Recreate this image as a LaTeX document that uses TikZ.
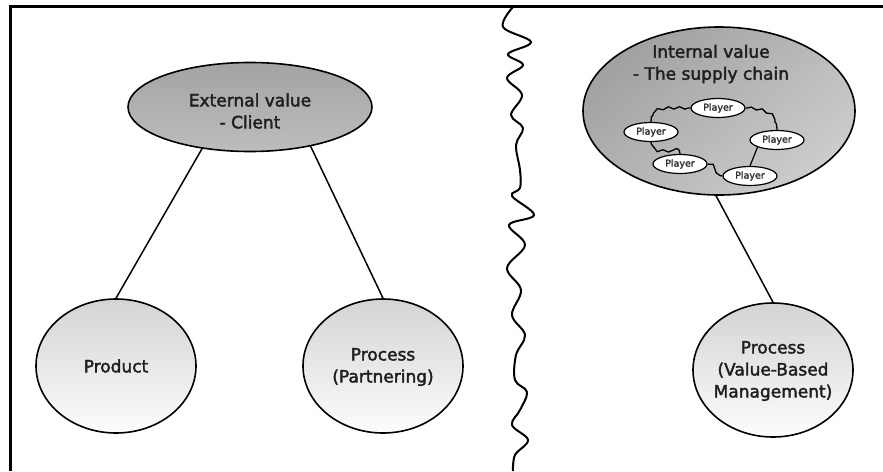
\documentclass[tikz,border=0pt]{standalone}
\usepackage{fontspec}
\setmainfont{DejaVu Sans}
\newfontfamily\lblfont{DejaVu Sans}[FakeBold=2.2]
\usetikzlibrary{shapes.geometric,decorations.pathmorphing}
\tikzset{
  valell/.style={ellipse, draw=black, line width=1.6pt, inner sep=0pt},
  bigell/.style={ellipse, draw=black, line width=1.6pt, inner sep=0pt, minimum width=160pt, minimum height=134pt, top color=black!17, bottom color=black!1},
  lbl/.style={align=center, inner sep=0pt, font=\lblfont\fontsize{17}{22}\selectfont, text=black!88},
  player/.style={ellipse, draw=black, line width=1.2pt, fill=white, inner sep=0pt, minimum width=54pt, minimum height=19pt, font=\lblfont\fontsize{9.5}{10}\selectfont, text=black!80},
  conn/.style={line width=1.5pt},
  wave/.style={line width=1.3pt, decorate, decoration={snake, amplitude=1.2pt, segment length=11pt, pre length=2pt, post length=2pt}},
  frameline/.style={line width=3pt},
  divider/.style={line width=2pt},
}
\begin{document}
\begin{tikzpicture}[x=1pt,y=-1pt]
\useasboundingbox (0,0) rectangle (883,471);
% frame
\draw[frameline] (883,6) -| (10,471);
% wavy divider
\draw[divider] plot[smooth, tension=0.6] coordinates {(513,7) (503,27) (531,42) (508,54) (523,65) (507,78) (522,95) (511,115) (523,128) (516,145) (520,170) (520,188) (512,196) (534,215) (509,225) (525,245) (507,268) (521,290) (512,315) (525,335) (516,355) (515,380) (527,392) (520,410) (512,425) (528,440) (515,455) (513,471)};
% left side
\node[valell, minimum width=244pt, minimum height=89pt, top color=black!36, bottom color=black!26] (ext) at (250,107) {};
\node[lbl] (extT) at (250,111) {External value\\- Client};
\node[bigell] (prod) at (116,366) {};
\node[lbl] (prodT) at (prod.center) {Product};
\node[bigell] (proc) at (383,366) {};
\node[lbl] (procT) at (383,367) {Process\\(Partnering)};
\draw[conn] (ext.221) -- (prod.north);
\draw[conn] (ext.327) -- (proc.north);
% right side
\node[valell, minimum width=272pt, minimum height=168pt, shading=axis, top color=black!37, bottom color=black!20, shading angle=40] (int) at (719,111) {};
\node[lbl] (intT) at (711,64) {Internal value\\- The supply chain};
\node[player] (p1) at (718,108) {Player};
\node[player] (p2) at (651,132) {Player};
\node[player] (p3) at (777,140) {Player};
\node[player] (p4) at (680,164) {Player};
\node[player] (p5) at (750,176) {Player};
\draw[wave] (p1.west) to[out=180,in=90] (p2.north);
\draw[wave] (p1.east) to[out=0,in=90] (p3.north);
\draw[wave] (p2.south) to[out=-90,in=90] (p4.north);
\draw[wave] (p4.east) to[out=0,in=180] (p5.west);
\draw[conn, line width=1.2pt] (p3.south west) -- (p5.north);
\node[bigell] (vbm) at (773,370) {};
\node[lbl] (vbmT) at (773,371) {Process\\(Value-Based\\Management)};
\draw[conn] (int.268) -- (vbm.north);
\end{tikzpicture}
\end{document}
